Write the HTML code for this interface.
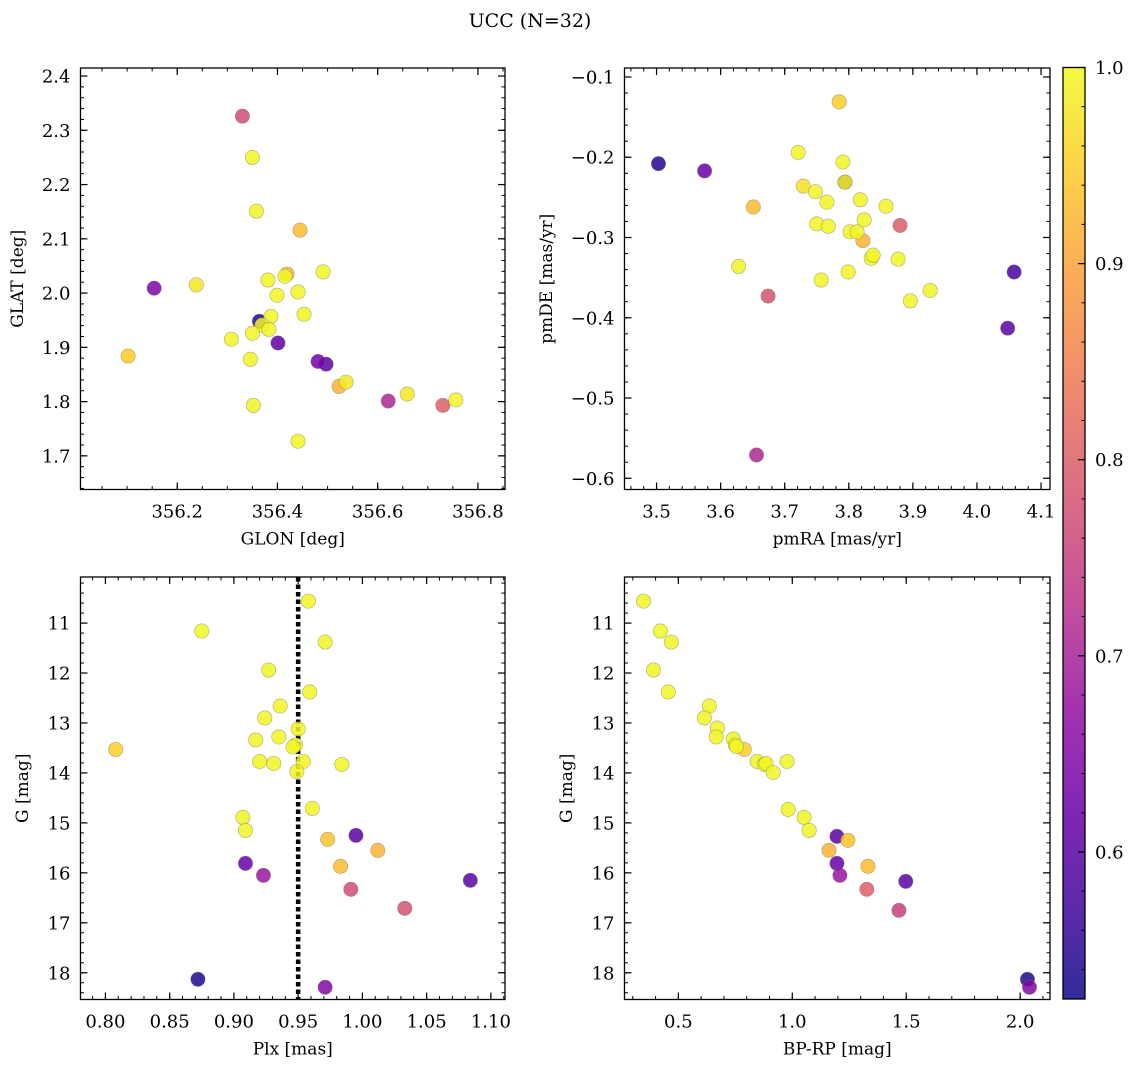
<!DOCTYPE html>
<html><head><meta charset="utf-8"><style>
html,body{margin:0;padding:0;background:#fff;}
svg{display:block;font-family:"DejaVu Serif","Liberation Serif",serif;}
</style></head><body>
<svg id="fig" width="1136" height="1067" viewBox="0 0 1136 1067" xmlns="http://www.w3.org/2000/svg">
<text x="530" y="27" text-anchor="middle" font-size="19">UCC (N=32)</text>
</svg>
<script>
// ---- data (per panel) ----
const tlGlon=[356.330,356.350,356.358,356.445,356.154,356.238,356.102,356.381,356.419,356.415,356.491,356.441,356.399,356.387,356.453,356.364,356.369,356.383,356.308,356.350,356.401,356.346,356.481,356.497,356.537,356.523,356.621,356.659,356.730,356.756,356.352,356.441];
const tlGlat=[2.326,2.250,2.151,2.116,2.009,2.015,1.884,2.024,2.035,2.031,2.039,2.002,1.996,1.957,1.961,1.948,1.941,1.933,1.915,1.926,1.908,1.878,1.874,1.869,1.836,1.828,1.801,1.814,1.793,1.803,1.793,1.727];
const tlProb=[0.77,0.995,0.995,0.93,0.64,0.98,0.95,0.995,0.92,1.0,0.995,0.995,0.995,0.995,0.995,0.54,0.995,0.995,0.995,0.995,0.61,0.995,0.63,0.60,0.98,0.92,0.71,0.98,0.80,0.995,0.995,0.995];

const trPmra=[3.503,3.575,3.785,3.721,3.729,3.748,3.791,3.794,3.794,3.766,3.818,3.858,3.750,3.768,3.802,3.813,3.824,3.822,3.651,3.880,3.628,3.799,3.757,3.835,3.838,3.877,3.927,3.896,3.674,4.058,4.048,3.656];
const trPmde=[-0.208,-0.217,-0.131,-0.194,-0.236,-0.243,-0.206,-0.231,-0.231,-0.256,-0.253,-0.261,-0.283,-0.286,-0.293,-0.293,-0.278,-0.304,-0.262,-0.285,-0.336,-0.343,-0.353,-0.326,-0.322,-0.327,-0.366,-0.379,-0.373,-0.343,-0.413,-0.571];
const trProb=[0.55,0.62,0.95,0.995,0.97,0.995,0.995,0.55,0.995,0.995,0.995,0.995,0.995,0.995,0.995,0.995,0.995,0.92,0.93,0.80,0.995,0.995,0.995,0.995,0.995,0.995,0.995,0.995,0.78,0.58,0.60,0.71];

const blPlx=[0.808,0.875,0.958,0.971,0.927,0.959,0.936,0.924,0.917,0.935,0.950,0.948,0.946,0.920,0.931,0.954,0.949,0.984,0.961,0.907,0.909,0.973,1.012,0.983,0.995,0.909,0.923,0.991,1.033,1.084,0.872,0.971];
const blG=[13.53,11.16,10.56,11.38,11.94,12.38,12.66,12.90,13.34,13.28,13.12,13.44,13.48,13.77,13.81,13.77,13.97,13.83,14.71,14.89,15.15,15.33,15.55,15.87,15.25,15.81,16.05,16.33,16.71,16.15,18.13,18.29];
const blProb=[0.95,1.0,0.995,0.995,0.995,0.995,0.995,0.995,0.995,0.995,0.995,0.995,0.995,0.995,0.995,0.995,0.995,0.995,0.995,0.995,0.995,0.94,0.92,0.93,0.60,0.62,0.68,0.77,0.78,0.60,0.54,0.65];

const brBprp=[0.347,0.421,0.469,0.391,0.456,0.636,0.671,0.614,0.666,0.741,0.750,0.755,0.789,0.846,0.877,0.885,0.977,0.916,0.982,1.052,1.074,1.196,1.244,1.161,1.332,1.196,1.209,1.498,1.327,1.468,2.032,2.041];
const brG=[10.56,11.16,11.38,11.94,12.38,12.66,13.10,12.90,13.28,13.32,13.44,13.47,13.53,13.77,13.83,13.81,13.77,13.99,14.73,14.89,15.15,15.27,15.35,15.55,15.87,15.81,16.05,16.17,16.33,16.75,18.13,18.29];
const brProb=[0.995,1.0,0.995,0.995,0.995,0.995,0.995,0.995,0.995,0.995,0.995,0.995,0.95,0.995,0.995,0.995,0.995,0.995,0.995,0.995,0.995,0.60,0.94,0.92,0.93,0.62,0.68,0.60,0.80,0.75,0.54,0.65];

const tlXTicks=[356.2,356.4,356.6,356.8];
const tlYTicks=[1.7,1.8,1.9,2.0,2.1,2.2,2.3,2.4];
const trXTicks=[3.5,3.6,3.7,3.8,3.9,4.0,4.1];
const trYTicks=[-0.6,-0.5,-0.4,-0.3,-0.2,-0.1];
const blXTicks=[0.80,0.85,0.90,0.95,1.00,1.05,1.10];
const gTicks=[11,12,13,14,15,16,17,18];
const brXTicks=[0.5,1.0,1.5,2.0];
const cbTicks=[0.6,0.7,0.8,0.9,1.0];
const plxLine=0.95;
const vmin=0.525, vmax=1.0;

const NS="http://www.w3.org/2000/svg";
const svg=document.getElementById('fig');
function mk(tag,attrs,parent){const e=document.createElementNS(NS,tag);for(const k in attrs)e.setAttribute(k,attrs[k]);(parent||svg).appendChild(e);return e;}

const stops=["#0d0887","#41049d","#6a00a8","#8f0da4","#b12a90","#cc4778","#e16462","#f2844b","#fca636","#fcce25","#f0f921"];
function hex(h){return [parseInt(h.slice(1,3),16),parseInt(h.slice(3,5),16),parseInt(h.slice(5,7),16)];}
function plasma(t){t=Math.max(0,Math.min(1,t));const s=t*10,i=Math.min(9,Math.floor(s)),f=s-i;const a=hex(stops[i]),b=hex(stops[i+1]);return `rgb(${a.map((v,k)=>Math.round(v+(b[k]-v)*f)).join(',')})`;}
function cmap(p){return plasma((p-vmin)/(vmax-vmin));}

function fmt(v,d){let s=v.toFixed(d);return s.replace('-','\u2212');}

function panel(o){
  const g=mk('g',{});
  
  
  const {x0,x1,y0,y1,xd,yd}=o;
  const sx=v=>x0+(v-xd[0])/(xd[1]-xd[0])*(x1-x0);
  const sy=o.invert? (v=>y0+(v-yd[0])/(yd[1]-yd[0])*(y1-y0)) : (v=>y1-(v-yd[0])/(yd[1]-yd[0])*(y1-y0));
  const lo=Math.min(yd[0],yd[1]),hi=Math.max(yd[0],yd[1]);
  for(let v=Math.ceil(xd[0]/o.xMinor-1e-6)*o.xMinor; v<=xd[1]+1e-9; v+=o.xMinor){const x=sx(v);
    mk('line',{x1:x,x2:x,y1:y1,y2:y1-3.5,stroke:'#000','stroke-width':1},g);mk('line',{x1:x,x2:x,y1:y0,y2:y0+3.5,stroke:'#000','stroke-width':1},g);}
  for(let v=Math.ceil(lo/o.yMinor-1e-6)*o.yMinor; v<=hi+1e-9; v+=o.yMinor){const y=sy(v);
    mk('line',{x1:x0,x2:x0+3.5,y1:y,y2:y,stroke:'#000','stroke-width':1},g);mk('line',{x1:x1,x2:x1-3.5,y1:y,y2:y,stroke:'#000','stroke-width':1},g);}
  o.xt.forEach(v=>{const x=sx(v);
    mk('line',{x1:x,x2:x,y1:y1,y2:y1-7,stroke:'#000','stroke-width':1.2},g);mk('line',{x1:x,x2:x,y1:y0,y2:y0+7,stroke:'#000','stroke-width':1.2},g);
    const t=mk('text',{x:x,y:y1+28,'text-anchor':'middle','font-size':18},g);t.textContent=fmt(v,o.xdec);
    
    });
  o.yt.forEach(v=>{const y=sy(v);
    mk('line',{x1:x0,x2:x0+7,y1:y,y2:y,stroke:'#000','stroke-width':1.2},g);mk('line',{x1:x1,x2:x1-7,y1:y,y2:y,stroke:'#000','stroke-width':1.2},g);
    const t=mk('text',{x:x0-10,y:y+6.5,'text-anchor':'end','font-size':18},g);t.textContent=fmt(v,o.ydec);
    
    });
  if(o.vline!==undefined){const x=sx(o.vline);
    const l=mk('line',{x1:x,x2:x,y1:y0,y2:y1,stroke:'#000','stroke-width':4.5,'stroke-dasharray':'4.5 3'},g);
    
    }
  const idx=o.xs.map((_,i)=>i).sort((a,b)=>o.ps[a]-o.ps[b]);
  idx.forEach(i=>{const c=mk('circle',{cx:sx(o.xs[i]),cy:sy(o.ys[i]),r:7.2,fill:cmap(o.ps[i]),'fill-opacity':0.85,stroke:'#777','stroke-opacity':0.6,'stroke-width':0.6},g);
    
    });
  const fr=mk('rect',{x:x0,y:y0,width:x1-x0,height:y1-y0,fill:'none',stroke:'#000','stroke-width':1.3},g);
  
  
  const xl=mk('text',{x:(x0+x1)/2,y:y1+55,'text-anchor':'middle','font-size':17},g);xl.textContent=o.xlab;
  
  
  const yx=o.ylx,yy=(y0+y1)/2;
  const yl=mk('text',{x:yx,y:yy,'text-anchor':'middle','font-size':17,transform:`rotate(-90 ${yx} ${yy})`},g);yl.textContent=o.ylab;
  
  
}

panel({name:'glon-glat-panel',x0:80.5,x1:505,y0:68,y1:489.5,xd:[356.007,356.854],yd:[1.638,2.4148],xt:tlXTicks,yt:tlYTicks,xMinor:0.05,yMinor:0.02,xdec:1,ydec:1,xs:tlGlon,ys:tlGlat,ps:tlProb,xlab:'GLON [deg]',ylab:'GLAT [deg]',ylx:23});
panel({name:'pm-panel',x0:624.5,x1:1050,y0:68,y1:489.5,xd:[3.450,4.114],yd:[-0.614,-0.0888],xt:trXTicks,yt:trYTicks,xMinor:0.02,yMinor:0.02,xdec:1,ydec:1,xs:trPmra,ys:trPmde,ps:trProb,xlab:'pmRA [mas/yr]',ylab:'pmDE [mas/yr]',ylx:552});
panel({name:'plx-g-panel',x0:80.5,x1:505,y0:577,y1:999.5,xd:[0.7806,1.111],yd:[10.078,18.535],invert:true,xt:blXTicks,yt:gTicks,xMinor:0.01,yMinor:0.2,xdec:2,ydec:0,xs:blPlx,ys:blG,ps:blProb,xlab:'Plx [mas]',ylab:'G [mag]',ylx:28,vline:plxLine});
panel({name:'cmd-panel',x0:624.5,x1:1050,y0:577,y1:999.5,xd:[0.2636,2.131],yd:[10.078,18.535],invert:true,xt:brXTicks,yt:gTicks,xMinor:0.1,yMinor:0.2,xdec:1,ydec:0,xs:brBprp,ys:brG,ps:brProb,xlab:'BP-RP [mag]',ylab:'G [mag]',ylx:572});

(function(){
  const cx0=1063,cx1=1085,cy0=67.5,cy1=999;
  const g=mk('g',{});
  
  
  const defs=mk('defs',{},g);
  const lg=mk('linearGradient',{id:'cbg',x1:0,y1:1,x2:0,y2:0},defs);
  for(let i=0;i<=20;i++){mk('stop',{offset:(i/20),'stop-color':plasma(i/20)},lg);}
  mk('rect',{x:cx0,y:cy0,width:cx1-cx0,height:cy1-cy0,fill:'url(#cbg)','fill-opacity':0.85},g);
  const sy=v=>cy1-(v-vmin)/(vmax-vmin)*(cy1-cy0);
  for(let v=0.54;v<=1.0001;v+=0.02){const y=sy(v);mk('line',{x1:cx1,x2:cx1-3.5,y1:y,y2:y,stroke:'#000','stroke-width':1},g);}
  cbTicks.forEach(v=>{const y=sy(v);mk('line',{x1:cx1,x2:cx1-7,y1:y,y2:y,stroke:'#000','stroke-width':1.2},g);
    const t=mk('text',{x:cx1+10,y:y+6.5,'font-size':18},g);t.textContent=v.toFixed(1);
    
    });
  mk('rect',{x:cx0,y:cy0,width:cx1-cx0,height:cy1-cy0,fill:'none',stroke:'#000','stroke-width':1.3},g);
})();
</script>
</body></html>
